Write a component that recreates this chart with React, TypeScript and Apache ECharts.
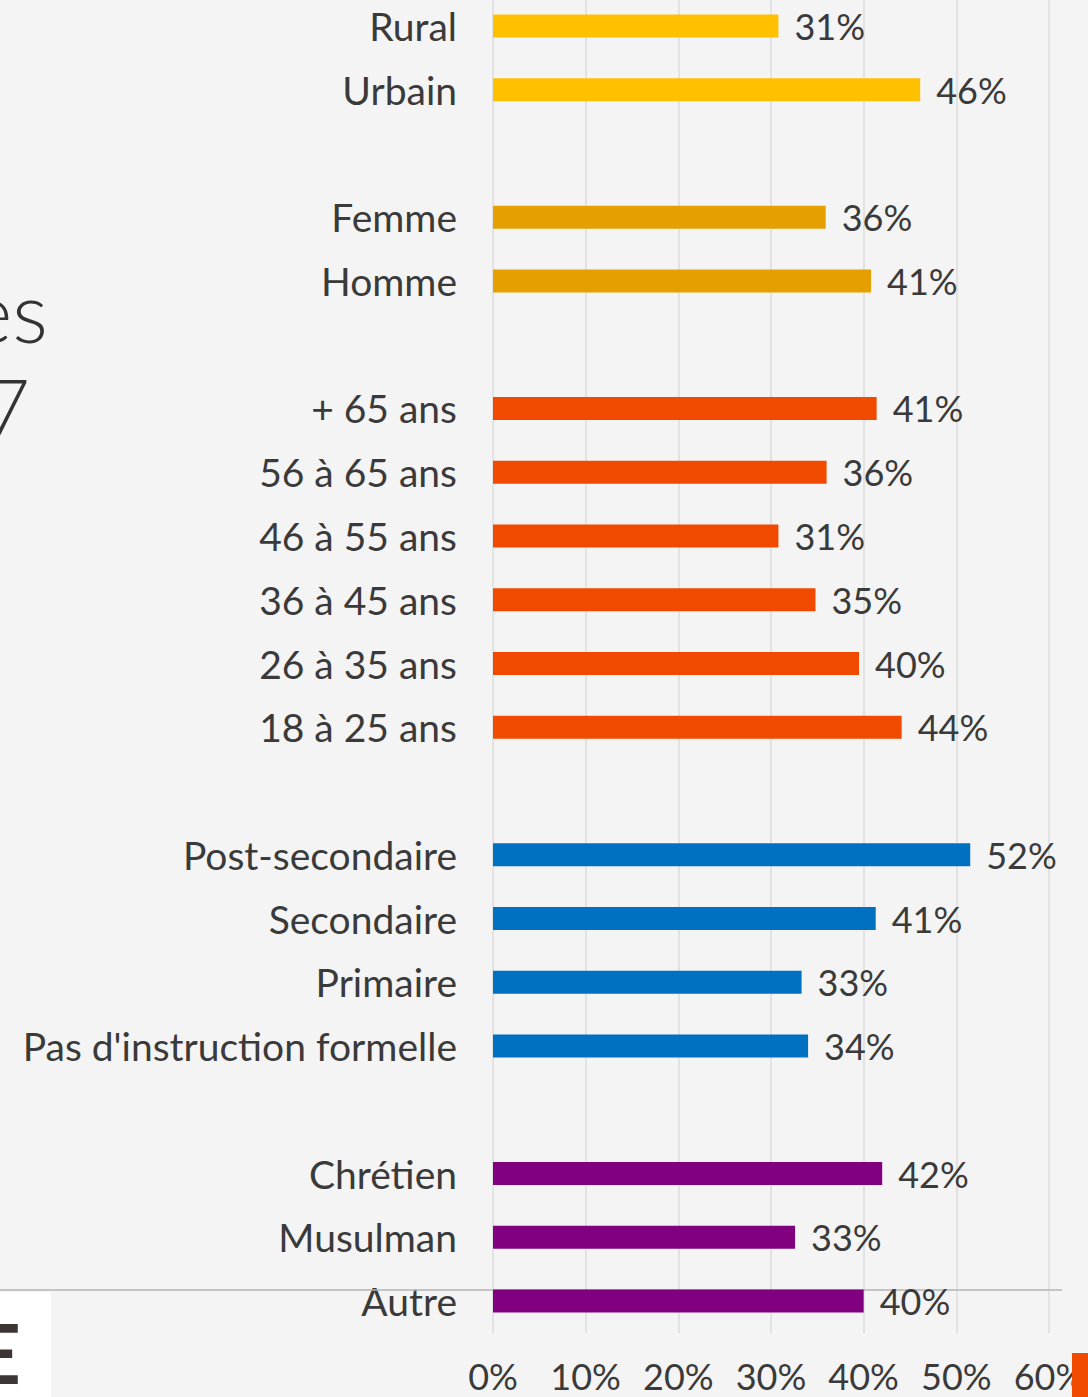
import React, { useEffect, useRef } from "react";
import * as echarts from "echarts";

const categories = [
  "Rural", "Urbain", "",
  "Femme", "Homme", "",
  "+ 65 ans", "56 à 65 ans", "46 à 55 ans", "36 à 45 ans", "26 à 35 ans", "18 à 25 ans", "",
  "Post-secondaire", "Secondaire", "Primaire", "Pas d'instruction formelle", "",
  "Chrétien", "Musulman", "Autre",
];
const values: (number | null)[] = [
  30.8, 46.1, null,
  35.9, 40.8, null,
  41.4, 36.0, 30.8, 34.8, 39.5, 44.1, null,
  51.5, 41.3, 33.3, 34.0, null,
  42.0, 32.6, 40.0,
];
const groups = [
  0, 0, -1,
  1, 1, -1,
  2, 2, 2, 2, 2, 2, -1,
  3, 3, 3, 3, -1,
  4, 4, 4,
];
const groupColors = ["#FFC000", "#E69F00", "#F04A00", "#0070C0", "#800080"];
const xTicks = [0, 10, 20, 30, 40, 50, 60];

const FONT = "Lato";
const TEXT = "#3a3a3a";
const OFF = 6; // chart div is shifted up by this many pixels

export default function App() {
  const ref = useRef<HTMLDivElement>(null);
  useEffect(() => {
    const chart = echarts.init(ref.current!, null, { renderer: "svg" });
    const data = values.map((v, i) => ({
      value: v,
      itemStyle: { color: groups[i] >= 0 ? groupColors[groups[i]] : "transparent" },
    }));
    chart.setOption({
      animation: false,
      backgroundColor: "#f4f4f4",
      grid: { left: 493, right: 39, top: 0, bottom: 64, containLabel: false },
      xAxis: {
        type: "value",
        min: xTicks[0],
        max: xTicks[xTicks.length - 1],
        interval: 10,
        axisLine: { show: false },
        axisTick: { show: false },
        splitLine: { show: true, lineStyle: { color: "#dcdcdc", width: 1.5 } },
        axisLabel: {
          formatter: (v: number) => v + "%",
          fontFamily: FONT,
          fontSize: 36,
          lineHeight: 36,
          color: TEXT,
          margin: 25,
        },
      },
      yAxis: {
        type: "category",
        data: categories,
        inverse: true,
        axisLine: { show: false },
        axisTick: { show: false },
        splitLine: { show: false },
        axisLabel: {
          fontFamily: FONT,
          fontSize: 39,
          color: TEXT,
          margin: 36,
        },
      },
      series: [
        {
          type: "bar",
          data,
          barWidth: 23,
          label: {
            show: true,
            position: "right",
            distance: 16,
            fontFamily: FONT,
            fontSize: 36,
            color: TEXT,
            formatter: (p: any) => (p.value == null ? "" : Math.round(p.value) + "%"),
          },
        },
      ],
      graphic: [
        {
          type: "line",
          shape: { x1: 0, y1: 1290 + OFF, x2: 1062, y2: 1290 + OFF },
          style: { stroke: "#b4b4b4", lineWidth: 1.5 },
          z: 1,
        },
        {
          type: "rect",
          shape: { x: 0, y: 1292 + OFF, width: 51, height: 110 },
          style: { fill: "#ffffff" },
          z: 2,
        },
        {
          type: "text",
          x: 21,
          y: 1311 + OFF,
          style: {
            text: "E",
            fontFamily: FONT,
            fontWeight: "bold",
            fontSize: 82,
            fill: "#3d3533",
            textAlign: "right",
            textVerticalAlign: "top",
          },
          z: 3,
        },
        {
          type: "text",
          x: 48,
          y: 352 + OFF,
          style: {
            text: "es",
            fontFamily: FONT,
            fontWeight: 300,
            fontSize: 84,
            fill: "#333333",
            textAlign: "right",
            textVerticalAlign: "bottom",
          },
          z: 3,
        },
        {
          type: "text",
          x: 30,
          y: 445 + OFF,
          style: {
            text: "7",
            fontFamily: FONT,
            fontWeight: 300,
            fontSize: 78,
            fill: "#333333",
            textAlign: "right",
            textVerticalAlign: "bottom",
          },
          z: 3,
        },
        {
          type: "rect",
          shape: { x: 1072, y: 1353 + OFF, width: 16, height: 50 },
          style: { fill: "#F04A00" },
          z: 100,
        },
      ],
    });
    return () => chart.dispose();
  }, []);
  return (
    <div
      ref={ref}
      style={{ position: "fixed", left: 0, top: -OFF, width: 1088, height: 1397 + OFF }}
    />
  );
}
